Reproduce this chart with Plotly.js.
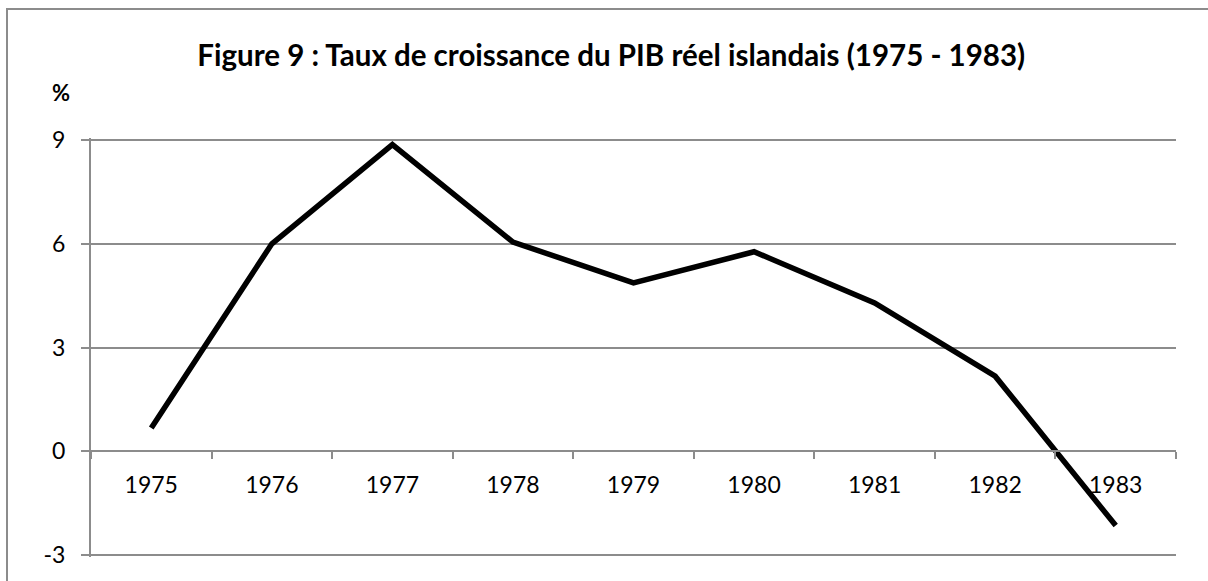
<!DOCTYPE html>
<html>
<head>
<meta charset="utf-8">
<script src="https://cdn.plot.ly/plotly-3.0.1.min.js"></script>
<style>
  html, body { margin: 0; padding: 0; background: #fff; overflow: hidden; }
  #frame { position: absolute; left: 6px; top: 8px; width: 1230px; height: 600px; border: 2px solid #8c8c8c; box-sizing: border-box; }
  #chart { position: absolute; left: 0; top: 0; width: 1208px; height: 581px; }
</style>
</head>
<body>
<div id="frame"></div>
<div id="chart"></div>
<script>
const years = ['1975', '1976', '1977', '1978', '1979', '1980', '1981', '1982', '1983'];
const growth = [0.67, 6.0, 8.87, 6.05, 4.87, 5.77, 4.29, 2.17, -2.15];
const yTicks = [-3, 0, 3, 6, 9];

const trace = {
  x: years,
  y: growth,
  type: 'scatter',
  mode: 'lines',
  line: { color: '#000000', width: 5.5 },
  hoverinfo: 'skip'
};

const yMin = -3.06, yMax = 9.06;

const layout = {
  width: 1208,
  height: 581,
  margin: { l: 91, r: 32, t: 138, b: 24 },
  paper_bgcolor: 'rgba(0,0,0,0)',
  plot_bgcolor: 'rgba(0,0,0,0)',
  showlegend: false,
  font: { family: 'Lato, "Open Sans", sans-serif', color: '#000' },
  title: {
    text: '<b>Figure 9 : Taux de croissance du PIB réel islandais (1975 - 1983)</b>',
    font: { family: 'Lato, "Open Sans", sans-serif', size: 29.5, color: '#000' },
    x: 0.506, xanchor: 'center',
    y: 0.905, yanchor: 'middle'
  },
  xaxis: {
    type: 'category',
    range: [-0.5, 8.5],
    anchor: 'free',
    position: (0 - yMin) / (yMax - yMin),
    showgrid: false,
    zeroline: false,
    showline: true,
    linecolor: '#8c8c8c',
    linewidth: 2,
    ticks: 'outside',
    tickson: 'boundaries',
    ticklen: 7,
    tickwidth: 2,
    tickcolor: '#8c8c8c',
    ticklabelstandoff: 13,
    tickfont: { size: 23, color: '#000' },
    fixedrange: true
  },
  yaxis: {
    range: [yMin, yMax],
    tickvals: yTicks,
    ticktext: yTicks.map(String),
    showgrid: true,
    gridcolor: '#8c8c8c',
    gridwidth: 2,
    zeroline: false,
    showline: true,
    linecolor: '#8c8c8c',
    linewidth: 2,
    ticks: 'outside',
    ticklen: 8,
    tickwidth: 2,
    tickcolor: '#8c8c8c',
    ticklabelstandoff: 11,
    tickfont: { size: 23, color: '#000' },
    fixedrange: true
  },
  annotations: [{
    text: '<b>%</b>',
    xref: 'paper', yref: 'paper',
    x: -0.028, y: 1.108,
    xanchor: 'center', yanchor: 'middle',
    showarrow: false,
    font: { family: 'Lato, "Open Sans", sans-serif', size: 22, color: '#000' }
  }]
};

Plotly.newPlot('chart', [trace], layout, { displayModeBar: false, staticPlot: true });
</script>
</body>
</html>
